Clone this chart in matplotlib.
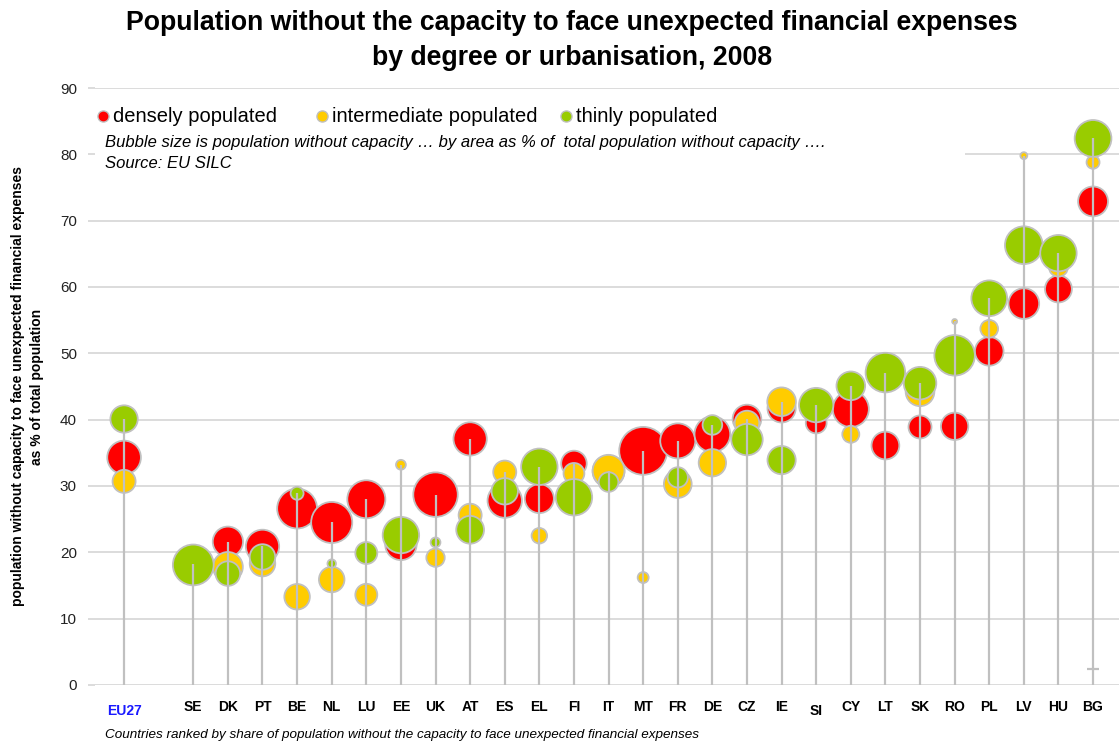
import numpy as np
import matplotlib
matplotlib.use("Agg")
import matplotlib.pyplot as plt
from matplotlib.patches import Rectangle

plt.rcParams["font.family"] = ["Liberation Sans", "DejaVu Sans"]

# ------------------------------------------------------------------
# Data
# ------------------------------------------------------------------
countries = ["EU27", "SE", "DK", "PT", "BE", "NL", "LU", "EE", "UK", "AT",
             "ES", "EL", "FI", "IT", "MT", "FR", "DE", "CZ", "IE", "SI",
             "CY", "LT", "SK", "RO", "PL", "LV", "HU", "BG"]

# % of population without capacity, by degree of urbanisation
dense_pct = [34.3, 18.3, 21.6, 20.9, 26.6, 24.5, 28.0, 21.2, 28.7, 37.1,
             27.8, 28.1, 33.4, 32.2, 35.3, 36.8, 37.8, 40.1, 41.7, 39.5,
             41.6, 36.1, 38.9, 39.0, 50.3, 57.5, 59.7, 72.9]
inter_pct = [30.7, 17.9, 17.8, 18.3, 13.3, 15.9, 13.6, 33.2, 19.2, 25.6,
             32.1, 22.5, 31.9, 32.3, 16.2, 30.3, 33.5, 39.5, 42.7, 42.0,
             37.8, 47.0, 44.2, 54.8, 53.7, 79.8, 63.0, 78.8]
thin_pct = [40.1, 18.1, 16.8, 19.3, 28.9, 18.3, 19.9, 22.6, 21.5, 23.4,
            29.2, 32.9, 28.3, 30.6, np.nan, 31.3, 39.2, 37.0, 33.9, 42.2,
            45.1, 47.1, 45.5, 49.7, 58.3, 66.3, 65.1, 82.4]

# bubble size: area's share of total population without capacity (%)
dense_share = [47, 16, 38, 46, 66, 70, 60, 41, 82, 46, 49, 35, 27, 42,
               95, 51, 53, 34, 33, 18, 54, 32, 22, 31, 34, 39, 30, 37]
inter_share = [22, 15, 37, 27, 27, 27, 20, 4, 14, 22, 22, 10, 18, 42,
               5, 32, 31, 25, 34, 33, 12, 3, 34, 1, 13, 2, 15, 7]
thin_share = [31, 69, 25, 27, 7, 3, 20, 55, 4, 32, 29, 55, 55, 16,
              0, 17, 16, 41, 33, 49, 34, 65, 44, 68, 53, 59, 55, 56]

# stray cap on the BG stem
bg_cap = 2.4

series = [
    ("densely populated", dense_pct, dense_share, "#ff0000"),
    ("intermediate populated", inter_pct, inter_share, "#ffcc00"),
    ("thinly populated", thin_pct, thin_share, "#99cc00"),
]

# EU27 first, then a gap, then the ranked countries
pos = np.array([0] + list(range(2, len(countries) + 1)), dtype=float)

W, H = 1119, 746
fig = plt.figure(figsize=(W / 100, H / 100), dpi=100)
ax = fig.add_axes([95 / W, 1 - 685 / H, 1 - 95 / W, (685 - 88) / H])

ax.set_xlim(-0.84, 28.75)
ax.set_ylim(0, 90)
ax.set_yticks(np.arange(0, 91, 10))
ax.set_axisbelow(True)
ax.grid(axis="y", color="#d9d9d9", linewidth=1.3)
for s in ax.spines.values():
    s.set_visible(False)

ax.tick_params(axis="y", length=5, width=1.3, color="#d9d9d9", pad=8,
               labelsize=11, labelcolor="#222222")
ax.set_xticks(pos, countries)
ax.tick_params(axis="x", length=0, pad=11, labelsize=10)
for lab in ax.get_xticklabels():
    lab.set_fontweight("bold")
ax.get_xticklabels()[0].set_color("#1a1aff")
for i, t in enumerate(ax.xaxis.get_major_ticks()):
    if countries[i] in ("EU27", "SI"):
        t.set_pad(14)

# white box behind the legend / notes
ax.add_patch(Rectangle((0, (685 - 175) / 597), 870 / 1024, 80 / 597,
                       transform=ax.transAxes, facecolor="white",
                       edgecolor="none", zorder=1))

# bubbles: drawn series by series
for z, (name, vals, share, col) in enumerate(series):
    ax.scatter(pos, vals, s=np.array(share) * 12.5, color=col,
               edgecolors="#c0c0c0", linewidths=1.3, zorder=2 + z)

# stems up to the highest bubble of each country
tops = np.nanmax([dense_pct, inter_pct, thin_pct], axis=0)
ax.vlines(pos, 0, tops, color="#c0c0c0", linewidth=1.6, zorder=6)
ax.plot(pos[countries.index("BG")], bg_cap, marker="_", markersize=8,
        color="#c0c0c0", markeredgewidth=1.6, zorder=6)

ax.set_ylabel("population without capacity to face unexpected financial expenses\n"
              "as % of total population", fontsize=10, fontweight="bold",
              linespacing=1.45)
ax.yaxis.set_label_coords(-0.050, 0.5)

# title
fig.text(572 / W, 1 - 10 / H,
         "Population without the capacity to face unexpected financial expenses\n"
         "by degree or urbanisation, 2008",
         ha="center", va="top", fontsize=19.2, fontweight="bold",
         linespacing=1.43)

# legend
legend_x = [103, 322, 566]
for (name, vals, share, col), lx in zip(series, legend_x):
    fig.add_artist(plt.Line2D([lx / W], [1 - 116 / H], marker="o",
                              markersize=8, color=col,
                              markeredgecolor="#c0c0c0", markeredgewidth=1,
                              linestyle="none", transform=fig.transFigure))
    fig.text((lx + 10) / W, 1 - 116 / H, name, ha="left", va="center",
             fontsize=14.5)

fig.text(105 / W, 1 - 142 / H,
         "Bubble size is population without capacity \u2026 by area as % of  "
         "total population without capacity \u2026.",
         ha="left", va="center", fontsize=12, style="italic")
fig.text(105 / W, 1 - 163 / H, "Source: EU SILC", ha="left", va="center",
         fontsize=12, style="italic")

fig.text(105 / W, 1 - 735 / H,
         "Countries ranked by share of population without the capacity to face "
         "unexpected financial expenses",
         ha="left", va="center", fontsize=9.7, style="italic")

fig.savefig("out.png", dpi=100)
